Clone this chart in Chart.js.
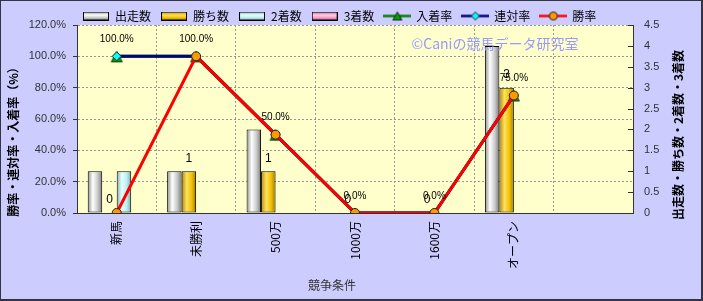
<!DOCTYPE html>
<html><head><meta charset="utf-8">
<script src="https://cdn.jsdelivr.net/npm/chart.js@4.4.1/dist/chart.umd.min.js"></script>
<style>html,body{margin:0;padding:0;background:#CCCCFF;} #wrap{width:703px;height:301px;position:relative} canvas{display:block}</style>
</head><body><div id="wrap"><canvas id="c" width="703" height="301"></canvas></div>
<script>
// ---- data ----
const categories = ['新馬', '未勝利', '500万', '1000万', '1600万', 'オープン', ''];
const starts     = [1, 1, 2, 0, 0, 4, null];   // 出走数
const wins       = [0, 1, 1, 0, 0, 3, null];   // 勝ち数
const seconds    = [1, 0, 0, 0, 0, 0, null];   // 2着数
const thirds     = [0, 0, 0, 0, 0, 0, null];   // 3着数
const placeRate    = [100, 100, 50, 0, 0, 75, null]; // 入着率
const quinellaRate = [100, 100, 50, 0, 0, 75, null]; // 連対率
const winRate      = [0, 100, 50, 0, 0, 75, null];   // 勝率
const rateTicks  = [0, 20, 40, 60, 80, 100, 120];
const countTicks = [0, 0.5, 1, 1.5, 2, 2.5, 3, 3.5, 4, 4.5];
const seriesNames = ['出走数', '勝ち数', '2着数', '3着数', '入着率', '連対率', '勝率'];
const leftTitle = '勝率・連対率・入着率（%）';
const rightTitle = '出走数・勝ち数・2着数・3着数';
const xTitle = '競争条件';
const watermark = '©Caniの競馬データ研究室';

const CJK = '"Noto Sans CJK JP", "Noto Sans", sans-serif';
const LAT = '"Liberation Sans", Arial, sans-serif';
const CAT_PCT = 0.73;

const barColors = [
  ['#8a8a8a', '#ffffff', '#c8c8c8', '#7a7a7a'],
  ['#b38a00', '#ffe060', '#f0c000', '#a07800'],
  ['#80b0b0', '#e8ffff', '#b8f0f0', '#80a8a8'],
  ['#b06080', '#ffd0e8', '#ff99cc', '#a05070']
];

function barGrad(k) {
  const cols = barColors[k];
  return (ctx) => {
    const chart = ctx.chart;
    const xs = chart.scales && chart.scales.x;
    if (!xs || ctx.dataIndex === undefined || !chart.chartArea) return cols[2];
    const center = xs.getPixelForValue(ctx.dataIndex);
    const catW = (xs.right - xs.left) / categories.length;
    const groupW = catW * CAT_PCT;
    const barW = groupW / 4;
    const left = center - groupW / 2 + k * barW;
    const g = chart.ctx.createLinearGradient(left, 0, left + barW, 0);
    g.addColorStop(0, cols[0]);
    g.addColorStop(0.35, cols[1]);
    g.addColorStop(0.7, cols[2]);
    g.addColorStop(1, cols[3]);
    return g;
  };
}

// marker images
function triMarker() {
  const c = document.createElement('canvas'); c.width = 14; c.height = 14;
  const x = c.getContext('2d');
  x.fillStyle = '#00a000'; x.strokeStyle = '#1a3a1a'; x.lineWidth = 1;
  x.beginPath(); x.moveTo(7, 2); x.lineTo(12.5, 12.5); x.lineTo(1.5, 12.5); x.closePath();
  x.fill(); x.stroke();
  return c;
}
const triImg = triMarker();

// legend icons
function barIcon(k) {
  const c = document.createElement('canvas'); c.width = 26; c.height = 9;
  const x = c.getContext('2d');
  const cols = barColors[k];
  const g = x.createLinearGradient(0, 0, 0, 9);
  g.addColorStop(0, cols[0]); g.addColorStop(0.4, cols[1]); g.addColorStop(0.7, cols[2]); g.addColorStop(1, cols[3]);
  x.fillStyle = g; x.fillRect(0, 0, 26, 9);
  x.strokeStyle = '#000'; x.lineWidth = 1; x.strokeRect(0.5, 0.5, 25, 8);
  return c;
}
function lineIcon(color, style, fill) {
  const c = document.createElement('canvas'); c.width = 28; c.height = 11;
  const x = c.getContext('2d');
  x.strokeStyle = color; x.lineWidth = 2.5;
  x.beginPath(); x.moveTo(0, 5.5); x.lineTo(28, 5.5); x.stroke();
  x.fillStyle = fill; x.strokeStyle = '#222'; x.lineWidth = 1;
  x.beginPath();
  if (style === 'circle') { x.arc(14, 5.5, 4, 0, Math.PI * 2); }
  else if (style === 'rectRot') { x.moveTo(14, 1.5); x.lineTo(18, 5.5); x.lineTo(14, 9.5); x.lineTo(10, 5.5); x.closePath(); }
  else { x.moveTo(14, 1.5); x.lineTo(18.5, 9.5); x.lineTo(9.5, 9.5); x.closePath(); }
  x.fill(); x.stroke();
  return c;
}
const icons = [barIcon(0), barIcon(1), barIcon(2), barIcon(3),
  lineIcon('#008000', 'triangle', '#00a000'),
  lineIcon('#000080', 'rectRot', '#00ffff'),
  lineIcon('#ff0000', 'circle', '#ff9900')];

const bgPlugin = {
  id: 'bg',
  beforeDraw(chart) {
    const { ctx, chartArea: a } = chart;
    ctx.save();
    ctx.fillStyle = '#CCCCFF'; ctx.fillRect(0, 0, chart.width, chart.height);
    ctx.fillStyle = '#FFFFCC'; ctx.fillRect(a.left, a.top, a.right - a.left, a.bottom - a.top);
    ctx.restore();
    if (chart.legend) chart.legend.left = 73;
  },
  afterDatasetsDraw(chart) {
    const ctx = chart.ctx;
    ctx.save();
    // inner tick marks on the right axis
    const s = chart.scales.y1;
    ctx.strokeStyle = '#333'; ctx.lineWidth = 1;
    s.ticks.forEach(t => {
      const y = Math.round(s.getPixelForValue(t.value)) + 0.5;
      ctx.beginPath(); ctx.moveTo(s.left - 5, y); ctx.lineTo(s.left, y); ctx.stroke();
    });
    ctx.textAlign = 'center'; ctx.textBaseline = 'middle'; ctx.fillStyle = '#000';
    // win-count labels
    ctx.font = '12px ' + LAT;
    chart.getDatasetMeta(1).data.forEach((el, i) => {
      if (wins[i] === null) return;
      ctx.fillText(String(wins[i]), el.x, el.y - 13);
    });
    // rate labels
    ctx.font = '10px ' + LAT;
    chart.getDatasetMeta(5).data.forEach((el, i) => {
      if (quinellaRate[i] === null) return;
      ctx.fillText(quinellaRate[i].toFixed(1) + '%', el.x, el.y - 17);
    });
    ctx.restore();
  },
  afterDraw(chart) {
    const ctx = chart.ctx;
    ctx.save();
    ctx.textAlign = 'center'; ctx.textBaseline = 'middle';
    // watermark
    ctx.fillStyle = '#9999FF'; ctx.font = '14px ' + CJK;
    ctx.fillText(watermark, 495, 44);
    // axis titles
    ctx.fillStyle = '#000'; ctx.font = 'bold 12px ' + CJK;
    ctx.save(); ctx.translate(13, 139); ctx.rotate(-Math.PI / 2); ctx.fillText(leftTitle, 0, 0); ctx.restore();
    ctx.save(); ctx.translate(678, 135); ctx.rotate(-Math.PI / 2); ctx.fillText(rightTitle, 0, 0); ctx.restore();
    ctx.fillStyle = '#333'; ctx.font = '12px ' + CJK;
    ctx.fillText(xTitle, 332, 285);
    // frame
    ctx.fillStyle = '#333344';
    ctx.fillRect(0, 0, chart.width, 1);
    ctx.fillRect(0, 0, 1, chart.height);
    ctx.fillRect(chart.width - 2, 0, 2, chart.height);
    ctx.fillRect(0, chart.height - 2, chart.width, 2);
    ctx.restore();
  }
};

const barDs = (k, label, data) => ({
  type: 'bar', label, data, yAxisID: 'y1', order: 10,
  backgroundColor: barGrad(k), borderColor: '#000', borderWidth: 1, borderSkipped: false,
  categoryPercentage: CAT_PCT, barPercentage: 1
});
const lineDs = (label, data, color, style, fill, radius, order) => ({
  type: 'line', label, data, yAxisID: 'y', order,
  borderColor: color, borderWidth: 3, backgroundColor: fill,
  pointStyle: style, pointRadius: radius, pointBackgroundColor: fill,
  pointBorderColor: '#222', pointBorderWidth: 1, tension: 0, spanGaps: false
});

new Chart(document.getElementById('c'), {
  data: {
    labels: categories,
    datasets: [
      barDs(0, seriesNames[0], starts),
      barDs(1, seriesNames[1], wins),
      barDs(2, seriesNames[2], seconds),
      barDs(3, seriesNames[3], thirds),
      lineDs(seriesNames[4], placeRate, '#008000', triImg, '#00a000', 6, 3),
      lineDs(seriesNames[5], quinellaRate, '#000080', 'rectRot', '#00ffff', 4.5, 2),
      lineDs(seriesNames[6], winRate, '#ff0000', 'circle', '#ff9900', 4.5, 1)
    ]
  },
  options: {
    responsive: false, animation: false, devicePixelRatio: 1,
    layout: { padding: 0 },
    plugins: {
      tooltip: { enabled: false },
      legend: {
        position: 'top', align: 'start', maxHeight: 25,
        labels: {
          usePointStyle: true, pointStyleWidth: 26, padding: 10,
          font: { size: 12, family: CJK }, color: '#000',
          generateLabels: (chart) => chart.data.datasets.map((ds, i) => ({
            text: ds.label, pointStyle: icons[i], datasetIndex: i, hidden: false,
            fontColor: '#000', lineWidth: 0, strokeStyle: 'rgba(0,0,0,0)', fillStyle: 'rgba(0,0,0,0)'
          }))
        }
      }
    },
    scales: {
      x: {
        offset: true,
        grid: { color: '#999', drawTicks: false },
        border: { color: '#333', width: 1, dash: [2, 2] },
        ticks: { maxRotation: 90, minRotation: 90, padding: 8, autoSkip: false, color: '#000', font: { size: 12, family: CJK } },
        afterFit: (s) => { s.height = 88; }
      },
      y: {
        position: 'left', min: 0, max: 120,
        afterBuildTicks: (s) => { s.ticks = rateTicks.map(v => ({ value: v })); },
        ticks: { callback: (v) => Number(v).toFixed(1) + '%', color: '#333', padding: 7, font: { size: 11, family: LAT } },
        grid: { color: '#999', tickColor: '#333', tickLength: 4 },
        border: { color: '#333', width: 1, dash: [2, 2] },
        afterFit: (s) => { s.width = 77; }
      },
      y1: {
        position: 'right', min: 0, max: 4.5,
        afterBuildTicks: (s) => { s.ticks = countTicks.map(v => ({ value: v })); },
        ticks: { callback: (v) => String(v), color: '#333', padding: 11, font: { size: 11, family: LAT } },
        grid: { drawOnChartArea: false, drawTicks: false },
        border: { color: '#333', width: 1 },
        afterFit: (s) => { s.width = 70; }
      }
    }
  },
  plugins: [bgPlugin]
});
</script></body></html>
